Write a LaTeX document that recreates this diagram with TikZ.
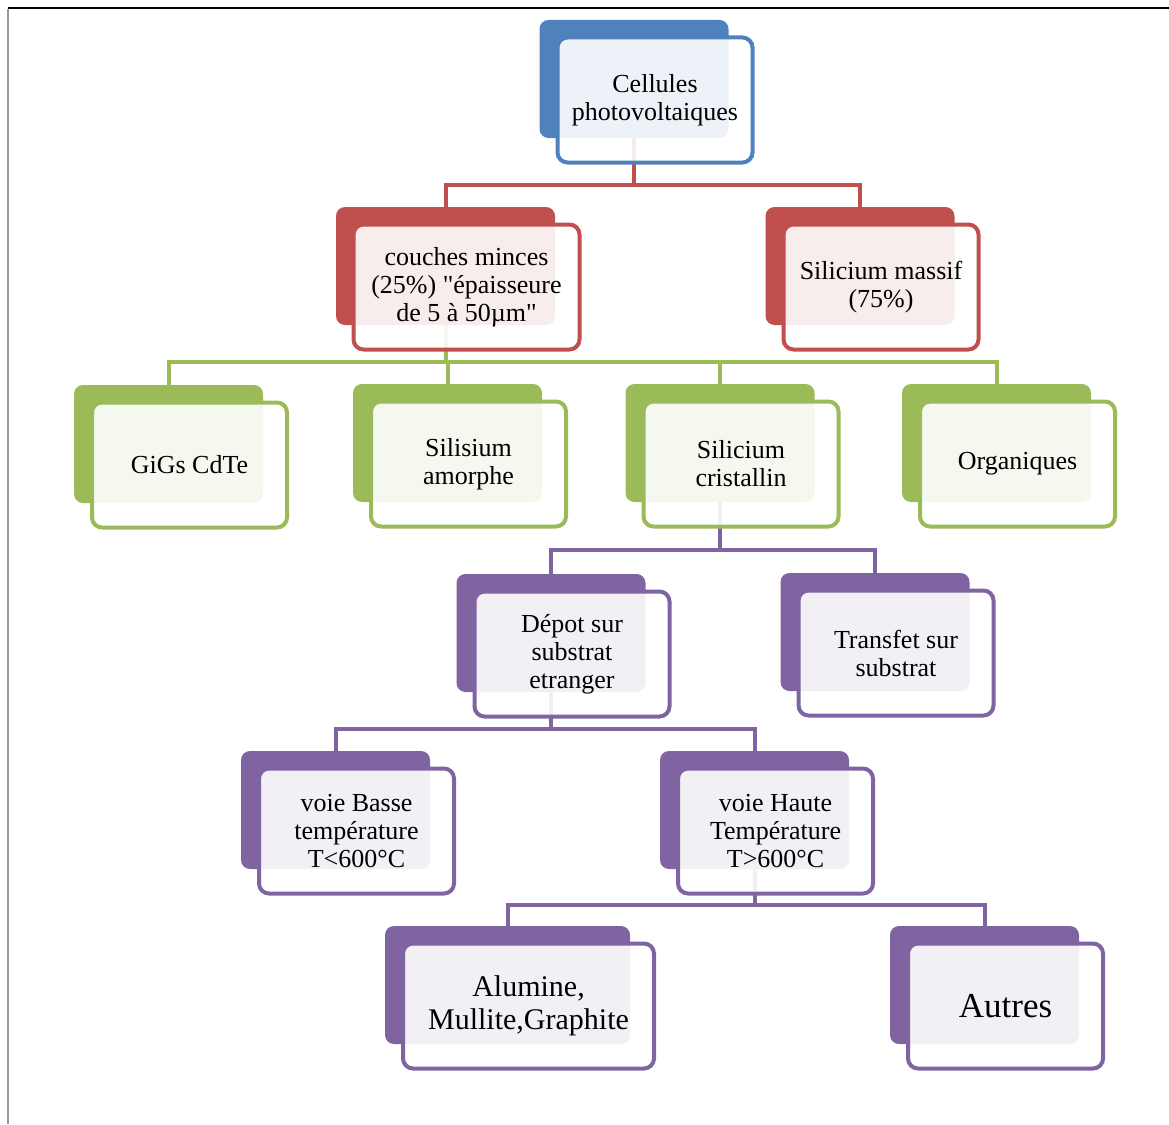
\documentclass[tikz,border=0pt]{standalone}
\usepackage{fontspec}
\setmainfont{Liberation Serif}
\usetikzlibrary{positioning}

\definecolor{cBlue}{HTML}{4F81BD}
\definecolor{cRed}{HTML}{C0504D}
\definecolor{cGreen}{HTML}{9BBB59}
\definecolor{cPurple}{HTML}{8064A2}

\begin{document}
\begin{tikzpicture}[x=1pt,y=-1pt,
    back/.style={rounded corners=9pt, fill=#1, inner sep=0pt,
        minimum width=189pt, minimum height=118pt},
    front/.style={rounded corners=10pt, draw=#1, line width=4pt,
        fill=white, fill opacity=0.9, text opacity=1, align=center,
        minimum width=195pt, minimum height=125pt, inner sep=2pt,
        xshift=21pt, yshift=-21pt,
        font=\fontsize{26}{28}\selectfont},
    link/.style={draw=#1, line width=4pt}]
    \useasboundingbox (0,0) rectangle (1169,1124);
    \draw [black, line width=1.5pt] (8,8) -- (1169,8);
    \draw [black!40, line width=2pt] (8,9) -- (8,1124);

    % back blocks (only placed here, drawn later)
    \path (634,79) coordinate (pCellules);
    \path (445.5,266) coordinate (pMinces);
    \path (860,266) coordinate (pMassif);
    \path (168.5,444) coordinate (pCigs);
    \path (447.5,443) coordinate (pAmorphe);
    \path (720,443) coordinate (pCristallin);
    \path (996.5,443) coordinate (pOrganiq);
    \path (551,633) coordinate (pDepot);
    \path (875,632) coordinate (pTransfert);
    \path (335.5,810) coordinate (pBasse);
    \path (754.5,810) coordinate (pHaute);
    \path (507.5,985) coordinate (pAlumine);
    \path (984.5,985) coordinate (pAutres);

    % buses
    \coordinate (bus1) at (634,185);
    \coordinate (bus2) at (446,362);
    \coordinate (bus3) at (720,550);
    \coordinate (bus4) at (551,729);
    \coordinate (bus5) at (754.5,905);

    \draw [link=cRed] (pCellules) -- (bus1);
    \draw [link=cRed] (pMinces) |- (bus1) -| (pMassif);

    \draw [link=cGreen] (pMinces) -- (bus2);
    \draw [link=cGreen] (pCigs) |- (bus2) -| (pOrganiq);
    \draw [link=cGreen] (pAmorphe) -- (pAmorphe |- bus2);
    \draw [link=cGreen] (pCristallin) -- (pCristallin |- bus2);

    \draw [link=cPurple] (pCristallin) -- (bus3);
    \draw [link=cPurple] (pDepot) |- (bus3) -| (pTransfert);

    \draw [link=cPurple] (pDepot) -- (bus4);
    \draw [link=cPurple] (pBasse) |- (bus4) -| (pHaute);

    \draw [link=cPurple] (pHaute) -- (bus5);
    \draw [link=cPurple] (pAlumine) |- (bus5) -| (pAutres);

    % blocks
    \node [back=cBlue] (cellules) at (pCellules) {};
    \node [front=cBlue] (cellulesT) at (cellules) {Cellules\\photovoltaiques};

    \node [back=cRed, minimum width=219pt] (minces) at (pMinces) {};
    \node [front=cRed, minimum width=226pt] (mincesT) at (minces) {couches minces\\(25\%) \textquotedbl épaisseure\\de 5 à 50µm\textquotedbl};
    \node [back=cRed] (massif) at (pMassif) {};
    \node [front=cRed] (massifT) at (massif) {Silicium massif\\(75\%)};

    \node [back=cGreen] (cigs) at (pCigs) {};
    \node [front=cGreen] (cigsT) at (cigs) {GiGs CdTe};
    \node [back=cGreen] (amorphe) at (pAmorphe) {};
    \node [front=cGreen] (amorpheT) at (amorphe) {Silisium\\amorphe};
    \node [back=cGreen] (cristallin) at (pCristallin) {};
    \node [front=cGreen] (cristallinT) at (cristallin) {Silicium\\cristallin};
    \node [back=cGreen] (organiq) at (pOrganiq) {};
    \node [front=cGreen] (organiqT) at (organiq) {Organiques};

    \node [back=cPurple] (depot) at (pDepot) {};
    \node [front=cPurple] (depotT) at (depot) {Dépot sur\\substrat\\etranger};
    \node [back=cPurple] (transfert) at (pTransfert) {};
    \node [front=cPurple] (transfertT) at (transfert) {Transfet sur\\substrat};

    \node [back=cPurple] (basse) at (pBasse) {};
    \node [front=cPurple] (basseT) at (basse) {voie Basse\\température\\T<600°C};
    \node [back=cPurple] (haute) at (pHaute) {};
    \node [front=cPurple] (hauteT) at (haute) {voie Haute\\Température\\T>600°C};

    \node [back=cPurple, minimum width=245pt] (alumine) at (pAlumine) {};
    \node [front=cPurple, minimum width=251pt, font=\fontsize{30}{33}\selectfont] (alumineT) at (alumine) {Alumine,\\Mullite,Graphite};
    \node [back=cPurple] (autres) at (pAutres) {};
    \node [front=cPurple, font=\fontsize{35}{40}\selectfont] (autresT) at (autres) {Autres};
\end{tikzpicture}
\end{document}
